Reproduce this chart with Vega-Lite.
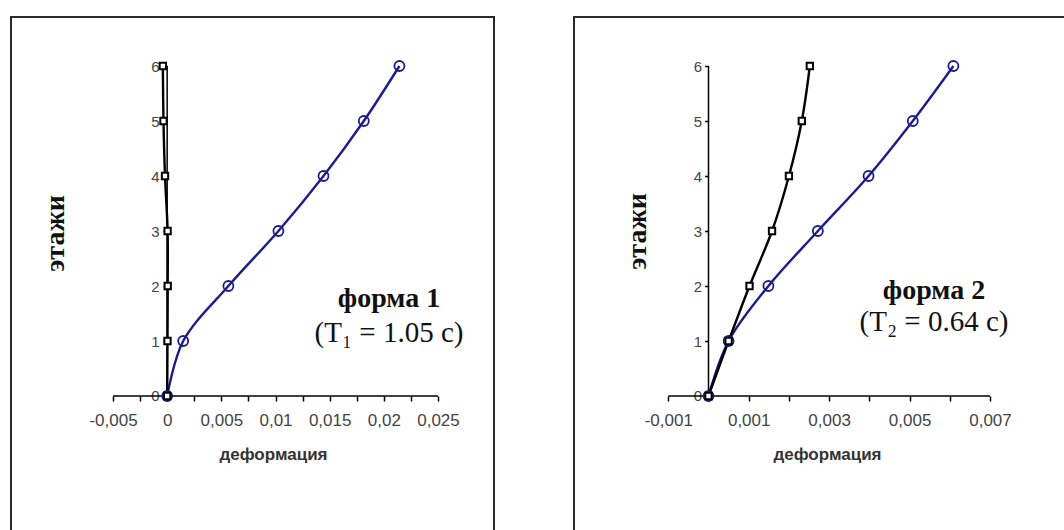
{
  "$schema": "https://vega.github.io/schema/vega-lite/v6.json",
  "padding": {"left": 10, "top": 16, "right": 0, "bottom": 0},
  "background": "white",
  "spacing": 78,
  "config": {
    "view": {"stroke": "#2a2a2a", "strokeWidth": 2},
    "axis": {"grid": false, "labelFont": "Liberation Sans", "labelColor": "#444", "tickColor": "#000", "tickWidth": 1.5, "domain": false, "labelFlush": false, "labelOverlap": false}
  },
  "datasets": {
    "d": [
      {"panel": 1, "series": "форма", "floor": 0, "def": 0},
      {"panel": 1, "series": "форма", "floor": 1, "def": 0.00148},
      {"panel": 1, "series": "форма", "floor": 2, "def": 0.00565},
      {"panel": 1, "series": "форма", "floor": 3, "def": 0.01027},
      {"panel": 1, "series": "форма", "floor": 4, "def": 0.01443},
      {"panel": 1, "series": "форма", "floor": 5, "def": 0.01815},
      {"panel": 1, "series": "форма", "floor": 6, "def": 0.02144},
      {"panel": 1, "series": "статика", "floor": 0, "def": 0},
      {"panel": 1, "series": "статика", "floor": 1, "def": 0.00003},
      {"panel": 1, "series": "статика", "floor": 2, "def": 0.00005},
      {"panel": 1, "series": "статика", "floor": 3, "def": 0.00004},
      {"panel": 1, "series": "статика", "floor": 4, "def": -0.0002},
      {"panel": 1, "series": "статика", "floor": 5, "def": -0.00034},
      {"panel": 1, "series": "статика", "floor": 6, "def": -0.0004},
      {"panel": 2, "series": "форма", "floor": 0, "def": 0},
      {"panel": 2, "series": "форма", "floor": 1, "def": 0.0005},
      {"panel": 2, "series": "форма", "floor": 2, "def": 0.00149},
      {"panel": 2, "series": "форма", "floor": 3, "def": 0.00272},
      {"panel": 2, "series": "форма", "floor": 4, "def": 0.00398},
      {"panel": 2, "series": "форма", "floor": 5, "def": 0.00508},
      {"panel": 2, "series": "форма", "floor": 6, "def": 0.00609},
      {"panel": 2, "series": "статика", "floor": 0, "def": 0},
      {"panel": 2, "series": "статика", "floor": 1, "def": 0.0005},
      {"panel": 2, "series": "статика", "floor": 2, "def": 0.00102},
      {"panel": 2, "series": "статика", "floor": 3, "def": 0.00158},
      {"panel": 2, "series": "статика", "floor": 4, "def": 0.002},
      {"panel": 2, "series": "статика", "floor": 5, "def": 0.00232},
      {"panel": 2, "series": "статика", "floor": 6, "def": 0.00252}
    ]
  },
  "hconcat": [
    {
      "width": 483,
      "height": 516,
      "layer": [
        {
          "data": {"name": "d"},
          "transform": [{"filter": "datum.panel == 1"}],
          "mark": {"type": "line", "interpolate": "catmull-rom", "strokeWidth": 2.4},
          "encoding": {
            "x": {
              "field": "def", "type": "quantitative",
              "scale": {"domain": [-0.0144154, 0.0301692], "nice": false, "zero": false},
              "axis": {
                "orient": "bottom", "offset": -137,
                "values": [-0.005, -0.0025, 0, 0.0025, 0.005, 0.0075, 0.01, 0.0125, 0.015, 0.0175, 0.02, 0.0225, 0.025],
                "labelExpr": "round(datum.value * 10000) % 50 == 0 ? replace(toString(datum.value), '.', ',') : ''",
                "labelFontSize": 17, "labelColor": "#444",
                "tickSize": 5, "labelPadding": 11,
                "title": "деформация", "titleFont": "Liberation Sans", "titleFontSize": 17, "titleFontWeight": "bold", "titleColor": "#333",
                "titleX": 262, "titleY": 58, "titleAlign": "center", "titleBaseline": "middle"
              }
            },
            "y": {
              "field": "floor", "type": "quantitative",
              "scale": {"domain": [-2.49091, 6.89091], "nice": false, "zero": false},
              "axis": {
                "orient": "left", "offset": -156,
                "values": [0, 1, 2, 3, 4, 5, 6],
                "labelFontSize": 15, "labelColor": "#444",
                "tickSize": 4, "labelPadding": 4,
                "title": "этажи", "titleFont": "Liberation Serif", "titleFontSize": 28, "titleFontWeight": "bold", "titleColor": "#111",
                "titleX": -111.5, "titleY": 216, "titleAlign": "center", "titleBaseline": "middle", "titleAngle": -90
              }
            },
            "color": {"field": "series", "type": "nominal", "scale": {"domain": ["форма", "статика"], "range": ["#1c1c8a", "#000000"]}, "legend": null},
            "order": {"field": "floor", "type": "quantitative"}
          }
        },
        {
          "data": {"values": [{}]},
          "mark": {"type": "rule", "color": "#000", "strokeWidth": 1.5},
          "encoding": {"x": {"datum": -0.005}, "x2": {"datum": 0.025}, "y": {"datum": 0}}
        },
        {
          "data": {"values": [{}]},
          "mark": {"type": "rule", "color": "#000", "strokeWidth": 1.5},
          "encoding": {"x": {"datum": 0}, "y": {"datum": 0}, "y2": {"datum": 6}}
        },
        {
          "data": {"name": "d"},
          "transform": [{"filter": "datum.panel == 1 && datum.series == 'форма'"}],
          "mark": {"type": "point", "shape": "circle", "filled": false, "size": 100, "strokeWidth": 1.8, "color": "#1c1c8a", "opacity": 1},
          "encoding": {"x": {"field": "def", "type": "quantitative"}, "y": {"field": "floor", "type": "quantitative"}}
        },
        {
          "data": {"name": "d"},
          "transform": [{"filter": "datum.panel == 1 && datum.series == 'статика'"}],
          "mark": {"type": "square", "size": 40, "fill": "white", "stroke": "black", "strokeWidth": 2, "opacity": 1},
          "encoding": {"x": {"field": "def", "type": "quantitative"}, "y": {"field": "floor", "type": "quantitative"}}
        },
        {
          "data": {"values": [{}]},
          "mark": {"type": "text", "font": "Liberation Serif", "fontSize": 28, "fontWeight": "bold", "align": "center", "baseline": "alphabetic", "color": "#111"},
          "encoding": {"x": {"datum": 0.02048}, "y": {"datum": 1.62}, "text": {"value": "форма 1"}}
        },
        {
          "data": {"values": [{}]},
          "mark": {"type": "text", "font": "Liberation Serif", "fontSize": 29, "align": "center", "baseline": "alphabetic", "color": "#111"},
          "encoding": {"x": {"datum": 0.02048}, "y": {"datum": 0.98}, "text": {"value": "(T₁ = 1.05 с)"}}
        }
      ]
    },
    {
      "width": 495,
      "height": 516,
      "layer": [
        {
          "data": {"name": "d"},
          "transform": [{"filter": "datum.panel == 2"}],
          "mark": {"type": "line", "interpolate": "catmull-rom", "strokeWidth": 2.4},
          "encoding": {
            "x": {
              "field": "def", "type": "quantitative",
              "scale": {"domain": [-0.0033447, 0.0089649], "nice": false, "zero": false},
              "axis": {
                "orient": "bottom", "offset": -137,
                "values": [-0.001, 0, 0.001, 0.002, 0.003, 0.004, 0.005, 0.006, 0.007],
                "labelExpr": "abs(round(datum.value * 1000) % 2) == 1 ? replace(toString(datum.value), '.', ',') : ''",
                "labelFontSize": 17, "labelColor": "#444",
                "tickSize": 5, "labelPadding": 11,
                "title": "деформация", "titleFont": "Liberation Sans", "titleFontSize": 17, "titleFontWeight": "bold", "titleColor": "#333",
                "titleX": 253, "titleY": 58, "titleAlign": "center", "titleBaseline": "middle"
              }
            },
            "y": {
              "field": "floor", "type": "quantitative",
              "scale": {"domain": [-2.49091, 6.89091], "nice": false, "zero": false},
              "axis": {
                "orient": "left", "offset": -134.5,
                "values": [0, 1, 2, 3, 4, 5, 6],
                "labelFontSize": 15, "labelColor": "#444",
                "tickSize": 4, "labelPadding": 3,
                "title": "этажи", "titleFont": "Liberation Serif", "titleFontSize": 28, "titleFontWeight": "bold", "titleColor": "#111",
                "titleX": -71.5, "titleY": 214, "titleAlign": "center", "titleBaseline": "middle", "titleAngle": -90
              }
            },
            "color": {"field": "series", "type": "nominal", "scale": {"domain": ["форма", "статика"], "range": ["#1c1c8a", "#000000"]}, "legend": null},
            "order": {"field": "floor", "type": "quantitative"}
          }
        },
        {
          "data": {"values": [{}]},
          "mark": {"type": "rule", "color": "#000", "strokeWidth": 1.5},
          "encoding": {"x": {"datum": -0.001}, "x2": {"datum": 0.007}, "y": {"datum": 0}}
        },
        {
          "data": {"values": [{}]},
          "mark": {"type": "rule", "color": "#000", "strokeWidth": 1.5},
          "encoding": {"x": {"datum": 0}, "y": {"datum": 0}, "y2": {"datum": 6}}
        },
        {
          "data": {"name": "d"},
          "transform": [{"filter": "datum.panel == 2 && datum.series == 'форма'"}],
          "mark": {"type": "point", "shape": "circle", "filled": false, "size": 100, "strokeWidth": 1.8, "color": "#1c1c8a", "opacity": 1},
          "encoding": {"x": {"field": "def", "type": "quantitative"}, "y": {"field": "floor", "type": "quantitative"}}
        },
        {
          "data": {"name": "d"},
          "transform": [{"filter": "datum.panel == 2 && datum.series == 'статика'"}],
          "mark": {"type": "square", "size": 40, "fill": "white", "stroke": "black", "strokeWidth": 2, "opacity": 1},
          "encoding": {"x": {"field": "def", "type": "quantitative"}, "y": {"field": "floor", "type": "quantitative"}}
        },
        {
          "data": {"values": [{}]},
          "mark": {"type": "text", "font": "Liberation Serif", "fontSize": 28, "fontWeight": "bold", "align": "center", "baseline": "alphabetic", "color": "#111"},
          "encoding": {"x": {"datum": 0.005608}, "y": {"datum": 1.76}, "text": {"value": "форма 2"}}
        },
        {
          "data": {"values": [{}]},
          "mark": {"type": "text", "font": "Liberation Serif", "fontSize": 29, "align": "center", "baseline": "alphabetic", "color": "#111"},
          "encoding": {"x": {"datum": 0.005608}, "y": {"datum": 1.18}, "text": {"value": "(T₂ = 0.64 с)"}}
        }
      ]
    }
  ]
}
